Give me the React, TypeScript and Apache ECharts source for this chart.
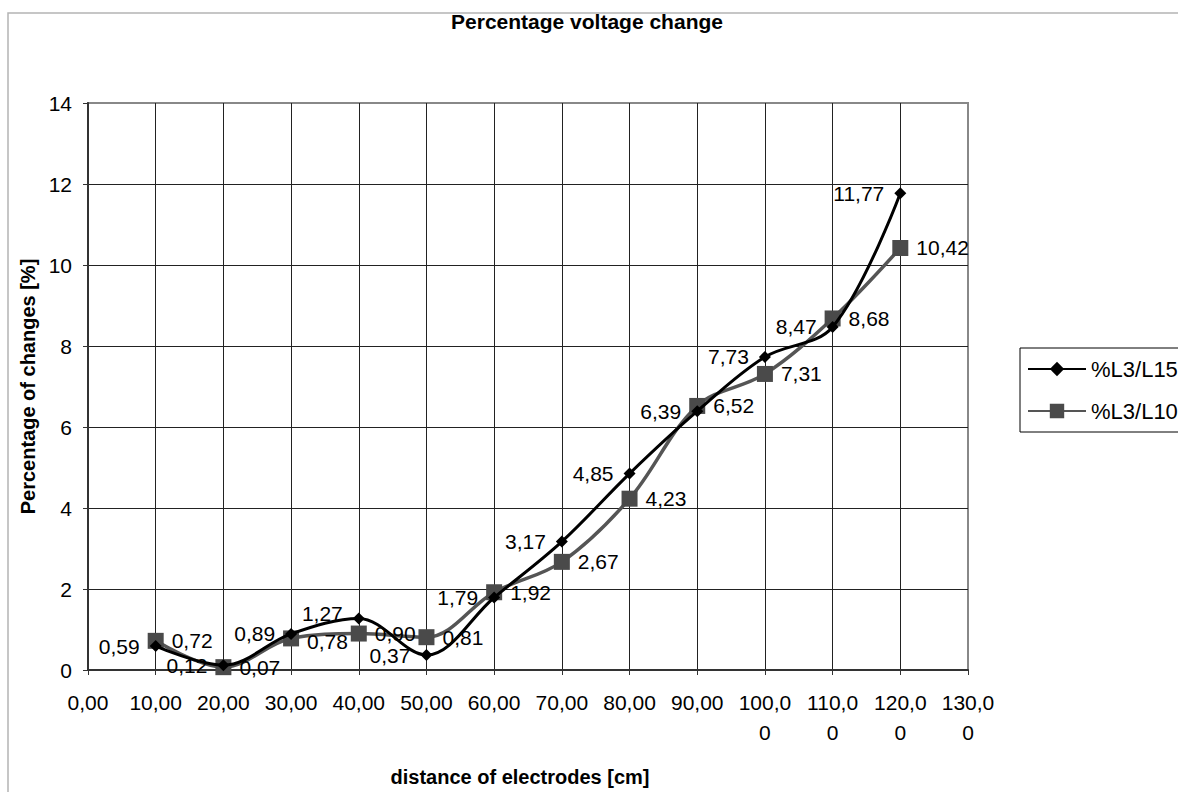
import React, { useEffect, useRef } from "react";
import * as echarts from "echarts";

const distances = [10, 20, 30, 40, 50, 60, 70, 80, 90, 100, 110, 120];
const seriesL15 = [0.59, 0.12, 0.89, 1.27, 0.37, 1.79, 3.17, 4.85, 6.39, 7.73, 8.47, 11.77];
const seriesL10 = [0.72, 0.07, 0.78, 0.9, 0.81, 1.92, 2.67, 4.23, 6.52, 7.31, 8.68, 10.42];
const seriesNames = ["%L3/L15", "%L3/L10"];
const chartTitle = "Percentage voltage change";
const xTitle = "distance of electrodes [cm]";
const yTitle = "Percentage of changes [%]";

const FONT = "'Liberation Sans', Arial, sans-serif";

const fmt = (v: number) => v.toFixed(2).replace(".", ",");
const fmtAxis = (v: number) => {
  const s = fmt(v);
  return s.length > 5 ? s.slice(0, 5) + "\n" + s.slice(5) : s;
};

export default function App() {
  const ref = useRef<HTMLDivElement>(null);
  useEffect(() => {
    document.body.style.margin = "0";
    if (!ref.current) return;
    const chart = echarts.init(ref.current, undefined, { renderer: "svg" });
    const labelStyle = {
      show: true,
      fontSize: 21,
      fontFamily: FONT,
      color: "#000",
      formatter: (p: any) => fmt(p.value[1]),
    };
    chart.setOption({
      animation: false,
      backgroundColor: "#fff",
      title: {
        text: chartTitle,
        left: 587,
        textAlign: "center",
        top: 11,
        padding: 0,
        textStyle: { fontSize: 21, fontWeight: "bold", fontFamily: FONT, color: "#000" },
      },
      graphic: [
        {
          type: "rect",
          z: -10,
          shape: { x: 8, y: 13, width: 1300, height: 900 },
          style: { fill: "none", stroke: "#b4b4b4", lineWidth: 1.5 },
          silent: true,
        },
      ],
      legend: {
        orient: "vertical",
        left: 1020,
        top: 348,
        padding: [10, 40, 10, 7],
        itemWidth: 58,
        itemHeight: 18,
        itemGap: 20,
        borderColor: "#000",
        borderWidth: 1,
        textStyle: { fontSize: 22, fontFamily: FONT, color: "#000" },
        data: seriesNames,
      },
      grid: {
        left: 88,
        right: 210,
        top: 103,
        bottom: 119,
        show: true,
        borderColor: "#888",
        borderWidth: 2,
        backgroundColor: "#fff",
      },
      xAxis: {
        type: "value",
        min: 0,
        max: 130,
        interval: 10,
        name: xTitle,
        nameLocation: "middle",
        nameGap: 97,
        nameTextStyle: { fontSize: 20, fontWeight: "bold", fontFamily: FONT, color: "#000", padding: [0, 16, 0, 0] },
        axisLine: { show: true, lineStyle: { color: "#333", width: 2 } },
        axisTick: { show: true, inside: false, length: 5, lineStyle: { color: "#333" } },
        axisLabel: {
          formatter: fmtAxis,
          fontSize: 21,
          lineHeight: 30,
          margin: 17,
          fontFamily: FONT,
          color: "#000",
        },
        splitLine: { show: true, showMaxLine: false, lineStyle: { color: "#222", width: 1 } },
      },
      yAxis: {
        type: "value",
        min: 0,
        max: 14,
        interval: 2,
        name: yTitle,
        nameLocation: "middle",
        nameRotate: 90,
        nameGap: 48,
        nameTextStyle: { fontSize: 20, fontWeight: "bold", fontFamily: FONT, color: "#000" },
        axisLine: { show: true, lineStyle: { color: "#333", width: 2 } },
        axisTick: { show: true, inside: false, length: 5, lineStyle: { color: "#333" } },
        axisLabel: { fontSize: 21, margin: 16, fontFamily: FONT, color: "#000" },
        splitLine: { show: true, showMaxLine: false, lineStyle: { color: "#222", width: 1 } },
      },
      series: [
        {
          name: seriesNames[0],
          type: "line",
          smooth: 0.35,
          data: distances.map((d, i) =>
            i === 3
              ? { value: [d, seriesL15[i]], label: { offset: [0, -5] } }
              : [d, seriesL15[i]]
          ),
          symbol: "diamond",
          symbolSize: 12,
          itemStyle: { color: "#000" },
          lineStyle: { color: "#000", width: 3 },
          label: { ...labelStyle, position: "left", distance: 10 },
          z: 3,
        },
        {
          name: seriesNames[1],
          type: "line",
          smooth: 0.35,
          data: distances.map((d, i) =>
            i === 2
              ? { value: [d, seriesL10[i]], label: { offset: [0, 3] } }
              : [d, seriesL10[i]]
          ),
          symbol: "rect",
          symbolSize: 16,
          itemStyle: { color: "#4a4a4a" },
          lineStyle: { color: "#555", width: 3.5 },
          label: { ...labelStyle, position: "right", distance: 8 },
          z: 2,
        },
      ],
    });
    return () => chart.dispose();
  }, []);
  return <div ref={ref} style={{ width: 1178, height: 792 }} />;
}
